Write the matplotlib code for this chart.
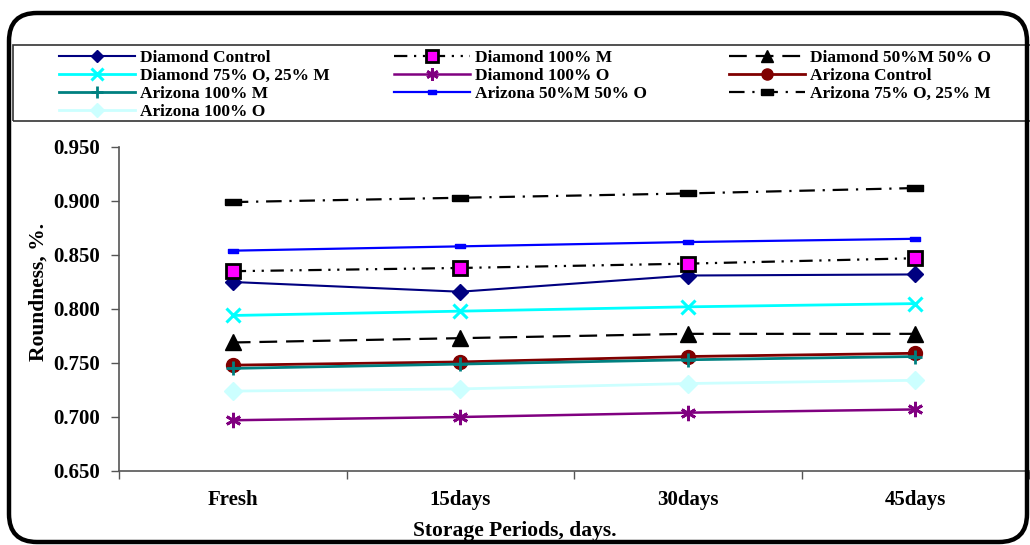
import matplotlib
matplotlib.use("Agg")
from matplotlib import pyplot as plt
from matplotlib.patches import FancyBboxPatch, Rectangle
from matplotlib.ticker import FormatStrFormatter, FixedLocator

plt.rcParams['font.family'] = ['Liberation Serif', 'DejaVu Serif']
plt.rcParams['font.weight'] = 'bold'

periods = ["Fresh", "15days", "30days", "45days"]

diamond_control = [0.825, 0.816, 0.831, 0.832]
diamond_100m = [0.835, 0.838, 0.842, 0.847]
diamond_50m_50o = [0.769, 0.773, 0.777, 0.777]
diamond_75o_25m = [0.794, 0.798, 0.802, 0.805]
diamond_100o = [0.697, 0.700, 0.704, 0.707]
arizona_control = [0.748, 0.751, 0.756, 0.759]
arizona_100m = [0.745, 0.749, 0.753, 0.756]
arizona_50m_50o = [0.854, 0.858, 0.862, 0.865]
arizona_75o_25m = [0.899, 0.903, 0.907, 0.912]
arizona_100o = [0.724, 0.726, 0.731, 0.734]

labels = ["Diamond Control", "Diamond 100% M", "Diamond 50%M 50% O",
          "Diamond 75% O, 25% M", "Diamond 100% O", "Arizona Control",
          "Arizona 100% M", "Arizona 50%M 50% O", "Arizona 75% O, 25% M",
          "Arizona 100% O"]

small_bar = [(-1, -0.45), (1, -0.45), (1, 0.45), (-1, 0.45), (-1, -0.45)]

styles = [
    dict(color="#000080", ls="-", marker="D", ms=8, mfc="#000080", mec="#000080", lw=1.5),
    dict(color="black", ls=(0, (6, 3, 1, 3, 1, 3)), marker="s", ms=10, mfc="#FF00FF", mec="black", mew=2, lw=1.6),
    dict(color="black", ls=(0, (8, 4)), marker="^", ms=11, mfc="black", mec="black", lw=1.6),
    dict(color="#00FFFF", ls="-", marker="x", ms=10, mec="#00FFFF", mew=2.2, lw=2),
    dict(color="#800080", ls="-", marker=(6, 2, 0), ms=11, mec="#800080", mew=2, lw=1.8),
    dict(color="#800000", ls="-", marker="o", ms=10, mfc="#800000", mec="#800000", lw=2),
    dict(color="#008080", ls="-", marker="+", ms=10, mec="#008080", mew=2, lw=2),
    dict(color="#0000FF", ls="-", marker=small_bar, ms=7, mfc="#0000FF", mec="#0000FF", lw=1.6),
    dict(color="black", ls=(0, (7, 3.5, 1, 3.5)), marker=small_bar, ms=11, mfc="black", mec="black", lw=1.6),
    dict(color="#CCFFFF", ls="-", marker="D", ms=9, mfc="#CCFFFF", mec="#CCFFFF", lw=2),
]
series = [diamond_control, diamond_100m, diamond_50m_50o, diamond_75o_25m, diamond_100o,
          arizona_control, arizona_100m, arizona_50m_50o, arizona_75o_25m, arizona_100o]

fig = plt.figure(figsize=(10.3, 5.45), dpi=100)
ax = fig.add_axes([119 / 1030, 74 / 545, 910 / 1030, 324 / 545])

x = list(range(len(periods)))
lines = []
for vals, lab, st in zip(series, labels, styles):
    ln, = ax.plot(x, vals, label=lab, clip_on=False, **st)
    lines.append(ln)

ax.set_xlim(-0.5, 3.5)
ax.set_ylim(0.650, 0.950)
ax.set_yticks([0.650, 0.700, 0.750, 0.800, 0.850, 0.900, 0.950])
ax.yaxis.set_major_formatter(FormatStrFormatter('%.3f'))
ax.set_xticks(x)
ax.set_xticklabels(periods)
ax.xaxis.set_minor_locator(FixedLocator([-0.5, 0.5, 1.5, 2.5, 3.5]))
ax.tick_params(axis='x', which='major', length=0, pad=14, labelsize=15)
ax.tick_params(axis='x', which='minor', length=6, width=1, color="#555555")
ax.tick_params(axis='y', length=6, width=1, color="#555555", pad=8, labelsize=15)
for s in ["top", "right"]:
    ax.spines[s].set_visible(False)
for s in ["left", "bottom"]:
    ax.spines[s].set_color("#555555")
    ax.spines[s].set_linewidth(1.2)

ax.set_ylabel("Roundness, %.", fontsize=15.5, fontweight='bold')
ax.yaxis.set_label_coords((49 - 119) / 910, (471 - 292) / 324)
ax.set_xlabel("Storage Periods, days.", fontsize=15.5, fontweight='bold')
ax.xaxis.set_label_coords((515 - 119) / 910, (471 - 521) / 324)

# legend frame
fig.patches.append(Rectangle((13 / 1030, (545 - 121) / 545), 1.1, 76 / 545,
                             transform=fig.transFigure, fill=False,
                             edgecolor="#333333", lw=1.2))
col_idx = [[0, 3, 6, 9], [1, 4, 7], [2, 5, 8]]
col_x = [59, 394, 729]
for cols, cx in zip(col_idx, col_x):
    leg = fig.legend([lines[i] for i in cols], [labels[i] for i in cols],
                     loc="upper left", bbox_to_anchor=(cx / 1030, (545 - 50) / 545),
                     frameon=False, borderpad=0, borderaxespad=0,
                     handlelength=4.4, handletextpad=0.25, labelspacing=0.1,
                     numpoints=1, markerscale=0.8,
                     prop={'family': 'Liberation Serif', 'weight': 'bold', 'size': 12.5})

# outer rounded border
border = FancyBboxPatch((9 / 100, 3 / 100), (1027 - 9) / 100, (532 - 3) / 100,
                        boxstyle="round,pad=0,rounding_size=0.28",
                        transform=fig.dpi_scale_trans, fill=False,
                        edgecolor="black", lw=3.2)
fig.patches.append(border)

fig.savefig("out.png", dpi=100)
